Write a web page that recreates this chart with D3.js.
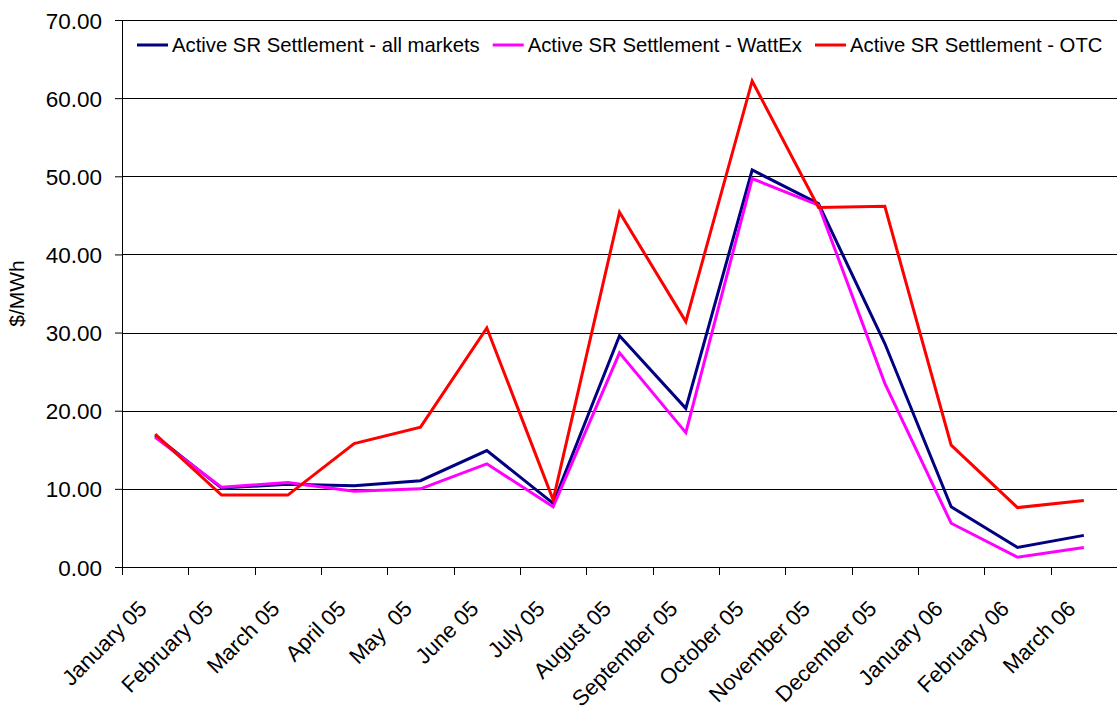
<!DOCTYPE html>
<html>
<head>
<meta charset="utf-8">
<script src="https://cdn.jsdelivr.net/npm/d3@7"></script>
<style>
  body { margin: 0; background: #fff; }
  text { font-family: "Liberation Sans", Arial, sans-serif; fill: #000; }
</style>
</head>
<body>
<script>
// Data
const months = ["January 05", "February 05", "March 05", "April 05", "May  05", "June 05", "July 05",
  "August 05", "September 05", "October 05", "November 05", "December 05", "January 06", "February 06", "March 06"];
const allMarkets = [16.8, 10.1, 10.6, 10.4, 11.05, 14.9, 8.15, 29.6, 20.3, 50.8, 46.5, 28.6, 7.7, 2.5, 4.05];
const wattEx =     [16.6, 10.2, 10.8, 9.7, 10.0, 13.2, 7.7, 27.4, 17.2, 49.7, 46.3, 23.5, 5.6, 1.25, 2.5];
const otc =        [17.0, 9.2, 9.2, 15.8, 17.9, 30.6, 8.6, 45.4, 31.4, 62.2, 46.0, 46.15, 15.6, 7.6, 8.5];
const yTicks = [0, 10, 20, 30, 40, 50, 60, 70];
const seriesNames = ["Active SR Settlement - all markets", "Active SR Settlement - WattEx", "Active SR Settlement - OTC"];
const seriesColors = ["#000080", "#FF00FF", "#FF0000"];

const W = 1117, H = 709;
const margin = {top: 20, right: 0, bottom: 142, left: 122};
const width = W - margin.left - margin.right,
      height = H - margin.top - margin.bottom;

const svg = d3.select("body").append("svg")
    .attr("width", W).attr("height", H)
  .append("g")
    .attr("transform", "translate(" + margin.left + "," + margin.top + ")");

const x = d3.scaleBand().domain(months).range([0, width]);
const cx = d => x(d) + x.bandwidth() / 2;
const y = d3.scaleLinear().domain([0, 70]).range([height, 0]);

// gridlines
svg.append("g").selectAll("line")
  .data(yTicks.filter(t => t > 0))
  .join("line")
    .attr("x1", 0).attr("x2", width)
    .attr("y1", d => Math.round(y(d)) + 0.5).attr("y2", d => Math.round(y(d)) + 0.5)
    .attr("stroke", "#000").attr("stroke-width", 1);

// y axis
const yAxis = svg.append("g")
  .call(d3.axisLeft(y).tickValues(yTicks).tickFormat(d3.format(".2f")).tickSize(7).tickPadding(13));
yAxis.select(".domain").attr("stroke", "#000");
yAxis.selectAll("text").style("font-size", "22.5px").attr("dy", "0.36em");

svg.append("text")
    .attr("transform", "translate(" + (-98) + "," + (height / 2) + ") rotate(-90)")
    .attr("text-anchor", "middle")
    .style("font-size", "21px")
    .text("$/MWh");

// x axis: line, ticks at band boundaries, rotated labels
const xg = svg.append("g").attr("transform", "translate(0," + height + ")");
xg.append("line").attr("x1", 0).attr("x2", width).attr("y1", 0.5).attr("y2", 0.5).attr("stroke", "#000");
xg.selectAll("line.tick")
  .data(months.map(m => x(m)))
  .join("line").attr("class", "tick")
    .attr("x1", d => Math.round(d) + 0.5).attr("x2", d => Math.round(d) + 0.5)
    .attr("y1", 0).attr("y2", 8)
    .attr("stroke", "#000");
xg.selectAll("text")
  .data(months)
  .join("text")
    .attr("transform", d => "translate(" + (cx(d) - 7) + ",43) rotate(-45)")
    .attr("text-anchor", "end")
    .style("font-size", "22px")
    .style("white-space", "pre")
    .text(d => d);

// lines
const series = [allMarkets, wattEx, otc];
const line = d3.line().x((d, i) => cx(months[i])).y(d => y(d));
svg.append("g").selectAll("path")
  .data(series)
  .join("path")
    .attr("d", d => line(d))
    .attr("fill", "none")
    .attr("stroke", (d, i) => seriesColors[i])
    .attr("stroke-width", 3)
    .attr("stroke-linejoin", "miter");

// legend
const legend = svg.append("g").attr("transform", "translate(15,25)");
let lx = 0;
seriesNames.forEach((name, i) => {
  const g = legend.append("g").attr("transform", "translate(" + lx + ",0)");
  g.append("line").attr("x1", 0).attr("x2", 31).attr("y1", 0).attr("y2", 0)
    .attr("stroke", seriesColors[i]).attr("stroke-width", 3);
  const t = g.append("text").attr("x", 35).attr("dy", "0.35em")
    .style("font-size", "20.3px").text(name);
  lx += 35 + t.node().getComputedTextLength() + 13;
});
</script>
</body>
</html>
